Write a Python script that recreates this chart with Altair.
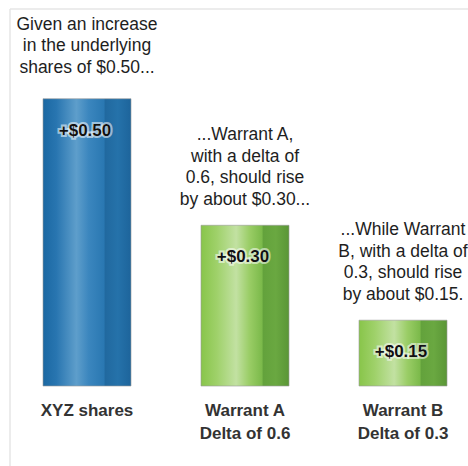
import altair as alt
import pandas as pd

# ---- data ----
categories = ["XYZ shares", "Warrant A", "Warrant B"]
sublabels = ["", "Delta of 0.6", "Delta of 0.3"]
kinds = ["shares", "warrant", "warrant"]
price_change = [0.50, 0.30, 0.15]
value_labels = ["+$0.50", "+$0.30", "+$0.15"]
notes = [
    "Given an increase\nin the underlying\nshares of $0.50...",
    "...Warrant A,\nwith a delta of\n0.6, should rise\nby about $0.30...",
    "...While Warrant\nB, with a delta of\n0.3, should rise\nby about $0.15.",
]
axis_floor = 0.046  # bars are drawn from a non-zero baseline in the reference

axis_labels = [c + ("\n" + s if s else "") for c, s in zip(categories, sublabels)]
df = pd.DataFrame({
    "axis_label": axis_labels,
    "kind": kinds,
    "change": price_change,
    "value_label": value_labels,
    "note": notes,
    "n_lines": [n.count("\n") + 1 for n in notes],
})

FONT = "Liberation Sans"

blue = alt.Gradient(
    gradient="linear", x1=0, x2=1, y1=0, y2=0,
    stops=[
        alt.GradientStop(color="#1b68a2", offset=0.0),
        alt.GradientStop(color="#2875b0", offset=0.15),
        alt.GradientStop(color="#5e9ecb", offset=0.38),
        alt.GradientStop(color="#3b86be", offset=0.52),
        alt.GradientStop(color="#2a78b2", offset=0.69),
        alt.GradientStop(color="#21699f", offset=0.71),
        alt.GradientStop(color="#2572aa", offset=0.85),
        alt.GradientStop(color="#1d649b", offset=1.0),
    ],
)
green = alt.Gradient(
    gradient="linear", x1=0, x2=1, y1=0, y2=0,
    stops=[
        alt.GradientStop(color="#88c54a", offset=0.0),
        alt.GradientStop(color="#9fd16a", offset=0.18),
        alt.GradientStop(color="#c2e1a2", offset=0.40),
        alt.GradientStop(color="#9acd66", offset=0.55),
        alt.GradientStop(color="#7cba4b", offset=0.69),
        alt.GradientStop(color="#63a23c", offset=0.71),
        alt.GradientStop(color="#6aa841", offset=0.85),
        alt.GradientStop(color="#5a9636", offset=1.0),
    ],
)

x = alt.X(
    "axis_label:N", sort=axis_labels, title=None,
    scale=alt.Scale(domain=axis_labels, paddingInner=0.443, paddingOuter=0.2025,
                    align=0.672, round=False),
    axis=alt.Axis(
        labelExpr="split(datum.label, '\\n')", labelAngle=0, labelFontSize=17,
        labelFontWeight="bold", labelColor="#333333", labelFont=FONT,
        labelLineHeight=23, labelPadding=16, ticks=False, tickSize=0,
        domain=False, grid=False, labelBaseline="top", labelLimit=0,
    ),
)
y = alt.Y("change:Q", scale=alt.Scale(domain=[axis_floor, 0.656], zero=False, nice=False),
          axis=None)

base = alt.Chart(df)

bars = base.mark_bar(stroke="#9a9a9a", strokeWidth=1, strokeOpacity=0.6).encode(
    x=x, y=y, y2=alt.datum(axis_floor),
    fill=alt.condition(alt.datum.kind == "shares", alt.value(blue), alt.value(green)),
)

halo = base.mark_text(
    dy=32, dx=-2, fontSize=17, fontWeight="bold", font=FONT,
    stroke="white", strokeWidth=4, strokeOpacity=0.55, color="white",
).encode(x=x, y=y, text="value_label:N")

vlabels = base.mark_text(
    dy=32, dx=-2, fontSize=17, fontWeight="bold", font=FONT, color="#111111",
).encode(x=x, y=y, text="value_label:N")

note_style = dict(align="center", baseline="top", fontSize=17.5, font=FONT,
                  color="#1e1e1e", lineBreak="\n", lineHeight=21.5)
notes3 = base.transform_filter(alt.datum.n_lines == 3).mark_text(
    dy=-83, **note_style).encode(x=x, y=y, text="note:N")
notes4 = base.transform_filter(alt.datum.n_lines == 4).mark_text(
    dy=-99, **note_style).encode(x=x, y=y, text="note:N")

frame_df = pd.DataFrame({"k": [0]})
left_edge = alt.Chart(frame_df).mark_rule(color="#e6e6e6", strokeWidth=1.5).encode(
    x=alt.value(10), y=alt.value(9), y2=alt.value(466))
top_edge = alt.Chart(frame_df).mark_rule(color="#e6e6e6", strokeWidth=1.5).encode(
    x=alt.value(10), x2=alt.value(468), y=alt.value(9))

chart = alt.layer(left_edge, top_edge, bars, halo, vlabels, notes3, notes4).properties(
    width=468, height=386,
    padding={"left": 0, "top": 0, "right": 0, "bottom": 80},
    autosize="none",
    background="white",
).configure_view(stroke=None)

chart.save("out.html", embed_options={"renderer": "svg", "actions": False})
